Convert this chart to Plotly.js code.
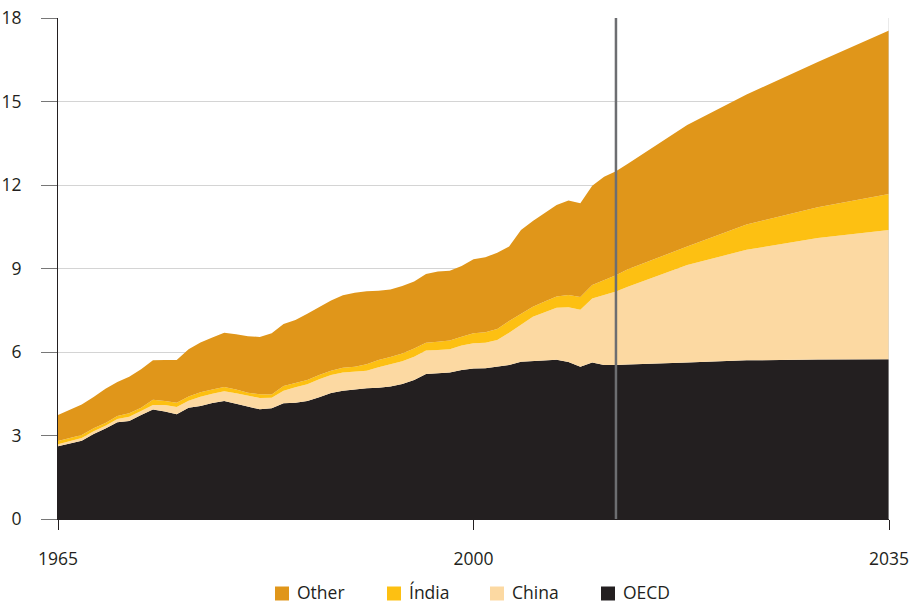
<!DOCTYPE html>
<html>
<head>
<meta charset="utf-8">
<script src="https://cdn.plot.ly/plotly-3.0.1.min.js"></script>
<style>
  html, body { margin: 0; padding: 0; background: #ffffff; }
  #chart { width: 914px; height: 603px; }
</style>
</head>
<body>
<div id="chart"></div>
<script>
// Years (history to 2012, projections afterwards)
const years = [1965,1966,1967,1968,1969,1970,1971,1972,1973,1974,1975,1976,1977,1978,1979,
  1980,1981,1982,1983,1984,1985,1986,1987,1988,1989,1990,1991,1992,1993,1994,1995,1996,1997,
  1998,1999,2000,2001,2002,2003,2004,2005,2006,2007,2008,2009,2010,2011,2012,2013,2018,2023,2029,2035];

const oecd = [2.61,2.72,2.81,3.05,3.25,3.48,3.52,3.74,3.93,3.86,3.76,4.00,4.06,4.17,4.24,
  4.14,4.04,3.94,3.98,4.16,4.18,4.24,4.37,4.53,4.61,4.66,4.70,4.72,4.76,4.85,4.99,5.21,5.23,
  5.26,5.35,5.41,5.42,5.47,5.53,5.65,5.68,5.70,5.72,5.64,5.47,5.62,5.53,5.53,5.55,5.62,5.70,5.73,5.74];

const china = [0.08,0.08,0.10,0.10,0.10,0.11,0.15,0.14,0.17,0.24,0.26,0.25,0.33,0.33,0.35,
  0.38,0.39,0.41,0.38,0.45,0.55,0.60,0.65,0.64,0.65,0.63,0.63,0.73,0.80,0.82,0.84,0.84,0.84,
  0.84,0.88,0.90,0.91,0.96,1.16,1.32,1.59,1.73,1.87,1.97,2.05,2.30,2.52,2.64,2.79,3.51,3.97,4.37,4.64];

const india = [0.11,0.10,0.11,0.11,0.10,0.11,0.13,0.12,0.18,0.14,0.16,0.15,0.16,0.15,0.15,
  0.13,0.11,0.13,0.11,0.17,0.15,0.15,0.15,0.16,0.17,0.18,0.23,0.26,0.26,0.28,0.30,0.28,0.30,
  0.31,0.32,0.36,0.38,0.40,0.42,0.40,0.36,0.38,0.40,0.44,0.46,0.49,0.54,0.59,0.63,0.66,0.91,1.10,1.30];

const other = [0.94,1.02,1.09,1.12,1.23,1.22,1.31,1.38,1.42,1.47,1.53,1.70,1.79,1.87,1.95,
  1.99,2.03,2.06,2.20,2.23,2.27,2.38,2.44,2.52,2.61,2.66,2.62,2.49,2.43,2.42,2.40,2.47,2.52,
  2.51,2.54,2.66,2.69,2.74,2.68,3.01,3.08,3.20,3.29,3.39,3.36,3.56,3.71,3.73,3.79,4.37,4.67,5.22,5.87];

const seriesNames = ["OECD", "China", "Índia", "Other"];
const legendOrder = ["Other", "Índia", "China", "OECD"];
const xTickVals = [1965, 2000, 2035];
const yTickVals = [0, 3, 6, 9, 12, 15, 18];
const baseYear = 2012;

const colors = {
  "OECD": "#231f20",
  "China": "#fcd9a2",
  "Índia": "#fdc012",
  "Other": "#e0961a"
};

const seriesData = [oecd, china, india, other];
const FONT = "'Open Sans', 'Noto Sans', sans-serif";

// page geometry (pixels)
const W = 914, H = 603;
const M = { l: 58, r: 25, t: 18, b: 84 };
const plotW = W - M.l - M.r;
const plotH = H - M.t - M.b;
const legendSwatchLeft = [275, 387, 490, 601]; // left edge of each legend swatch, px
const swatchCenterY = 593.5;
const textCenterY = 591.5;
const swatch = 14;
const pxToPaperX = px => (px - M.l) / plotW;
const pxToPaperY = py => (H - M.b - py) / plotH;

const traces = seriesNames.map((name, i) => ({
  type: "scatter",
  mode: "lines",
  name: name,
  x: years,
  y: seriesData[i],
  stackgroup: "one",
  line: { width: 0, color: colors[name] },
  fillcolor: colors[name],
  showlegend: false,
  hoverinfo: "skip"
}));

const shapes = [
  {
    type: "line", xref: "x", yref: "y",
    x0: 2035, x1: 2035, y0: 0, y1: 18,
    line: { color: "#d4d4d4", width: 1 },
    layer: "above"
  },
  {
    type: "line", xref: "x", yref: "y",
    x0: baseYear, x1: baseYear, y0: 0, y1: 18,
    line: { color: "#6d6e71", width: 2.5 },
    layer: "above"
  }
];
const annotations = [];
legendOrder.forEach((name, i) => {
  const left = legendSwatchLeft[i];
  shapes.push({
    type: "rect", xref: "paper", yref: "paper",
    x0: pxToPaperX(left), x1: pxToPaperX(left + swatch),
    y0: pxToPaperY(swatchCenterY + swatch / 2), y1: pxToPaperY(swatchCenterY - swatch / 2),
    fillcolor: colors[name],
    line: { width: 0 },
    layer: "above"
  });
  annotations.push({
    xref: "paper", yref: "paper",
    x: pxToPaperX(left + swatch + 7), y: pxToPaperY(textCenterY),
    xanchor: "left", yanchor: "middle",
    text: name,
    showarrow: false,
    borderpad: 0,
    font: { family: FONT, size: 17.5, color: "#231f20" }
  });
});

const layout = {
  width: W,
  height: H,
  margin: { l: M.l, r: M.r, t: M.t, b: M.b, autoexpand: false },
  paper_bgcolor: "#ffffff",
  plot_bgcolor: "#ffffff",
  font: { family: FONT, size: 17, color: "#231f20" },
  showlegend: false,
  xaxis: {
    range: [1965, 2035],
    tickvals: xTickVals,
    ticktext: xTickVals.map(String),
    ticks: "outside",
    ticklen: 10,
    tickwidth: 1,
    tickcolor: "#231f20",
    ticklabelstandoff: 14,
    showgrid: false,
    zeroline: false,
    showline: true,
    linecolor: "#231f20",
    linewidth: 1,
    tickfont: { family: FONT, size: 17.5, color: "#231f20" },
    fixedrange: true
  },
  yaxis: {
    range: [0, 18],
    tickvals: yTickVals,
    ticks: "outside",
    ticklen: 16,
    tickwidth: 1,
    tickcolor: "#777777",
    ticklabelstandoff: 16,
    showgrid: true,
    gridcolor: "#d4d4d4",
    gridwidth: 1,
    zeroline: false,
    showline: true,
    linecolor: "#231f20",
    linewidth: 1,
    tickfont: { family: FONT, size: 17.5, color: "#231f20" },
    fixedrange: true
  },
  shapes: shapes,
  annotations: annotations
};

Plotly.newPlot("chart", traces, layout, { displayModeBar: false, staticPlot: true });
</script>
</body>
</html>
